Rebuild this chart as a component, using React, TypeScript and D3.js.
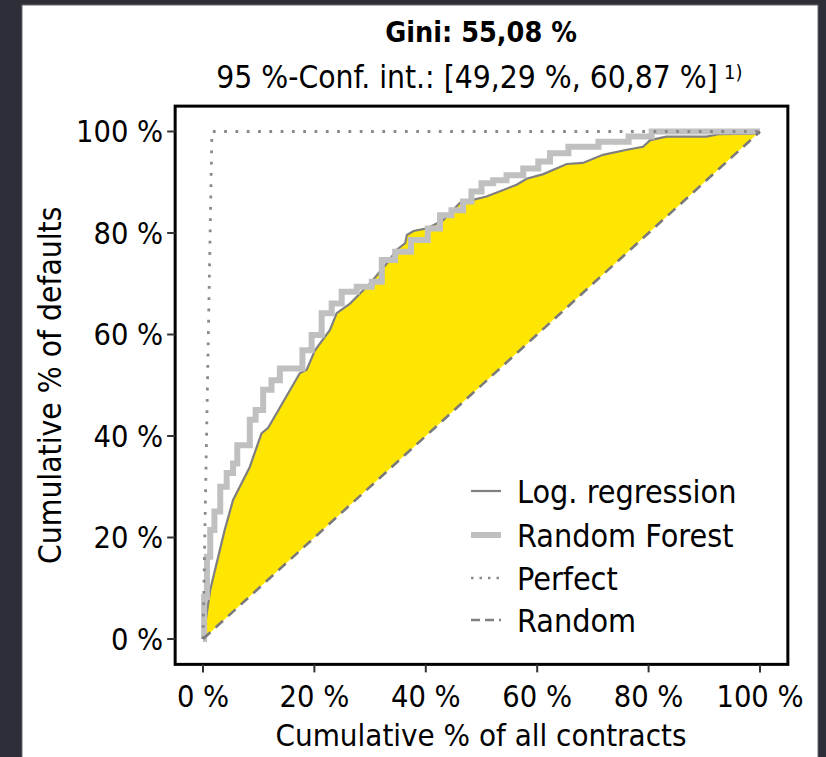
import React from "react";
import * as d3 from "d3";

// curve readings (share of contracts, share of defaults)
const logRegX = [0, 0.013, 0.039, 0.054, 0.084, 0.105, 0.117, 0.174, 0.186, 0.201, 0.228, 0.24, 0.264, 0.3, 0.33, 0.348, 0.363, 0.366, 0.378, 0.402, 0.431, 0.461, 0.509, 0.563, 0.581, 0.611, 0.653, 0.682, 0.718, 0.761, 0.79, 0.803, 0.832, 0.904, 0.928, 0.988, 1];
const logRegY = [0, 0.097, 0.215, 0.274, 0.339, 0.405, 0.416, 0.524, 0.53, 0.569, 0.609, 0.642, 0.661, 0.701, 0.74, 0.767, 0.78, 0.796, 0.804, 0.809, 0.825, 0.859, 0.872, 0.895, 0.907, 0.916, 0.936, 0.938, 0.954, 0.964, 0.97, 0.983, 0.99, 0.99, 0.995, 0.996, 1];

const forestX = [0, 0.004, 0.01, 0.016, 0.025, 0.037, 0.048, 0.06, 0.063, 0.081, 0.087, 0.102, 0.114, 0.132, 0.144, 0.171, 0.186, 0.204, 0.222, 0.24, 0.258, 0.294, 0.312, 0.33, 0.36, 0.387, 0.42, 0.431, 0.461, 0.473, 0.491, 0.509, 0.533, 0.557, 0.593, 0.611, 0.635, 0.677, 0.743, 0.785, 0.826, 1];
const forestY = [0, 0.083, 0.162, 0.215, 0.251, 0.3, 0.327, 0.346, 0.382, 0.382, 0.432, 0.451, 0.491, 0.51, 0.533, 0.533, 0.569, 0.599, 0.642, 0.661, 0.684, 0.694, 0.704, 0.747, 0.763, 0.786, 0.809, 0.835, 0.845, 0.862, 0.882, 0.898, 0.904, 0.914, 0.927, 0.941, 0.957, 0.97, 0.98, 0.99, 1, 1];

const perfectX = [0, 0.016, 1];
const perfectY = [0, 1, 1];
const randomX = [0, 1];
const randomY = [0, 1];

const tickValues = [0, 0.2, 0.4, 0.6, 0.8, 1];
const legendLabels = ["Log. regression", "Random Forest", "Perfect", "Random"];

const titleText = "Gini: 55,08 %";
const subtitleText = "95 %-Conf. int.: [49,29 %, 60,87 %]";
const footnoteText = "1)";

const W = 826;
const H = 757;
const font = "'DejaVu Sans Condensed', 'DejaVu Sans', sans-serif";

type P = [number, number];
const zip = (xs: number[], ys: number[]): P[] => xs.map((x, i) => [x, ys[i]]);

export default function App() {
  const x = d3.scaleLinear().domain([0, 1]).range([203, 760]);
  const y = d3.scaleLinear().domain([0, 1]).range([639, 131.5]);
  const [x0, x1] = [x(-0.05), x(1.05)];
  const [yTop, yBot] = [y(1.05), y(-0.05)];

  const line = d3.line<P>().x(d => x(d[0])).y(d => y(d[1]));
  const stepLine = d3.line<P>().x(d => x(d[0])).y(d => y(d[1])).curve(d3.curveStep);

  const lr = zip(logRegX, logRegY);
  const rf = zip(forestX, forestY);
  const area = d3.area<P>().x(d => x(d[0])).y0(d => y(d[0])).y1(d => y(d[1]));

  const fmt = (v: number) => `${Math.round(v * 100)} %`;
  const legendY = [491, 535, 578, 620];
  const keyStyles = [
    { stroke: "#7f7f7f", width: 2.2, dash: undefined },
    { stroke: "#c0c0c0", width: 6, dash: undefined },
    { stroke: "#8a8a8a", width: 2.5, dash: "2.5 6" },
    { stroke: "#808080", width: 2.5, dash: "9 5" },
  ];

  return (
    <svg width={W} height={H} style={{ position: "absolute", left: 0, top: 0 }} fontFamily={font}>
      <rect x={0} y={0} width={W} height={H} fill="#2e2e38" />
      <rect x={22} y={5} width={796} height={H} fill="#ffffff" stroke="#6a6a72" strokeWidth={1} />

      <text x={481} y={42} textAnchor="middle" fontSize={28.5} fontWeight="bold" fill="#000">{titleText}</text>
      <text x={467} y={88} textAnchor="middle" fontSize={31.5} fill="#000">{subtitleText}</text>
      <text x={724} y={79} fontSize={20} fill="#000">{footnoteText}</text>

      <defs>
        <clipPath id="plot"><rect x={x0} y={yTop} width={x1 - x0} height={yBot - yTop} /></clipPath>
      </defs>
      <g clipPath="url(#plot)">
        <path d={area(lr) || ""} fill="#ffe600" />
        <path d={line(lr) || ""} fill="none" stroke="#7f7f7f" strokeWidth={2.2} />
        <path d={stepLine(rf) || ""} fill="none" stroke="#c0c0c0" strokeWidth={6} strokeLinejoin="miter" />
        <path d={line(zip(perfectX, perfectY)) || ""} fill="none" stroke="#8a8a8a" strokeWidth={2.8} strokeDasharray="2.8 8.5" />
        <path d={line(zip(randomX, randomY)) || ""} fill="none" stroke="#7a7a7a" strokeWidth={2.6} strokeDasharray="10 7" />
      </g>

      <rect x={x0} y={yTop} width={x1 - x0} height={yBot - yTop} fill="none" stroke="#000" strokeWidth={3} />

      {tickValues.map(t => (
        <g key={"y" + t}>
          <line x1={x0 - 8} x2={x0} y1={y(t)} y2={y(t)} stroke="#333" strokeWidth={2} />
          <text x={x0 - 12} y={y(t)} dy="0.36em" textAnchor="end" fontSize={30.5} fill="#000">{fmt(t)}</text>
        </g>
      ))}
      {tickValues.map(t => (
        <g key={"x" + t}>
          <line x1={x(t)} x2={x(t)} y1={yBot} y2={yBot + 8} stroke="#333" strokeWidth={2} />
          <text x={x(t)} y={707} textAnchor="middle" fontSize={30.5} fill="#000">{fmt(t)}</text>
        </g>
      ))}

      <text x={481} y={746} textAnchor="middle" fontSize={31} fill="#000">Cumulative % of all contracts</text>
      <text transform={`translate(61,${(yTop + yBot) / 2}) rotate(-90)`} textAnchor="middle" fontSize={31.5} fill="#000">Cumulative % of defaults</text>

      {legendLabels.map((l, i) => (
        <g key={l}>
          <line x1={471} x2={501} y1={legendY[i]} y2={legendY[i]} stroke={keyStyles[i].stroke} strokeWidth={keyStyles[i].width} strokeDasharray={keyStyles[i].dash} />
          <text x={517} y={legendY[i]} dy="0.36em" fontSize={32} fill="#000">{l}</text>
        </g>
      ))}
    </svg>
  );
}
